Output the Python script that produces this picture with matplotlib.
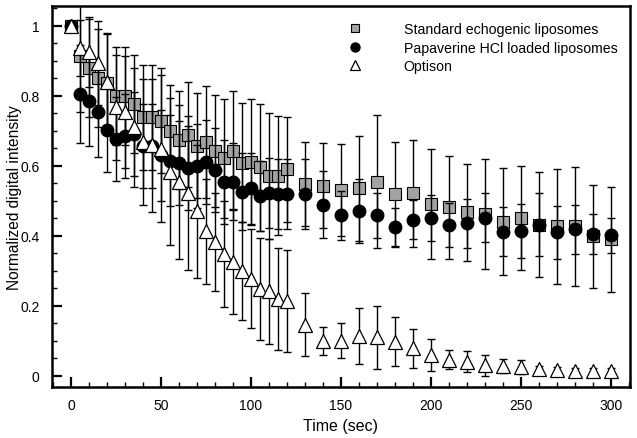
import numpy as np
import matplotlib
matplotlib.use("Agg")
import matplotlib.pyplot as plt
from matplotlib.ticker import MultipleLocator, FuncFormatter

plt.rcParams['font.family'] = ['Liberation Sans', 'DejaVu Sans']

# time points (sec)
t = [0, 5, 10, 15, 20, 25, 30, 35, 40, 45, 50, 55, 60, 65, 70, 75, 80, 85, 90, 95, 100, 105, 110, 115, 120,
     130, 140, 150, 160, 170, 180, 190, 200, 210, 220, 230, 240, 250, 260, 270, 280, 290, 300]

std = [1.0, 0.913, 0.879, 0.85, 0.835, 0.80, 0.80, 0.776, 0.738, 0.738, 0.729, 0.700, 0.673, 0.688, 0.657, 0.667,
       0.643, 0.621, 0.643, 0.608, 0.61, 0.595, 0.571, 0.571, 0.59,
       0.548, 0.543, 0.531, 0.536, 0.554, 0.518, 0.521, 0.491, 0.481, 0.467, 0.462, 0.44, 0.45, 0.431, 0.427,
       0.427, 0.398, 0.39]
std_err = [0, 0.16, 0.14, 0.14, 0.14, 0.14, 0.14, 0.14, 0.15, 0.15, 0.15, 0.13, 0.14, 0.15, 0.15, 0.16, 0.16,
           0.17, 0.17, 0.17, 0.18, 0.18, 0.18, 0.17, 0.15,
           0.12, 0.122, 0.131, 0.15, 0.19, 0.149, 0.152, 0.157, 0.148, 0.138, 0.157, 0.153, 0.148, 0.15, 0.164,
           0.17, 0.147, 0.15]

pap = [1.0, 0.805, 0.786, 0.754, 0.702, 0.676, 0.686, 0.69, 0.657, 0.657, 0.63, 0.614, 0.607, 0.593, 0.60, 0.611,
       0.588, 0.554, 0.554, 0.526, 0.535, 0.514, 0.521, 0.519, 0.519,
       0.519, 0.489, 0.459, 0.471, 0.459, 0.424, 0.446, 0.451, 0.431, 0.436, 0.451, 0.411, 0.414, 0.431, 0.41,
       0.419, 0.405, 0.402]
pap_err = [0, 0.14, 0.13, 0.13, 0.12, 0.12, 0.12, 0.12, 0.12, 0.12, 0.13, 0.13, 0.12, 0.12, 0.12, 0.12, 0.12,
           0.12, 0.11, 0.11, 0.10, 0.10, 0.10, 0.10, 0.10,
           0.10, 0.095, 0.07, 0.092, 0.064, 0.054, 0.055, 0.065, 0.062, 0.07, 0.07, 0.07, 0.077, 0.09, 0.075,
           0.07, 0.056, 0.05]

opt = [1.0, 0.935, 0.924, 0.893, 0.84, 0.767, 0.753, 0.71, 0.667, 0.659, 0.648, 0.583, 0.553, 0.522, 0.47, 0.413,
       0.381, 0.348, 0.326, 0.30, 0.278, 0.248, 0.241, 0.219, 0.214,
       0.146, 0.10, 0.10, 0.114, 0.11, 0.097, 0.079, 0.059, 0.046, 0.04, 0.031, 0.027, 0.024, 0.019, 0.018,
       0.014, 0.014, 0.014]
opt_err = [0, 0.08, 0.10, 0.12, 0.14, 0.15, 0.16, 0.17, 0.18, 0.19, 0.21, 0.21, 0.22, 0.22, 0.19, 0.15, 0.14,
           0.15, 0.15, 0.14, 0.14, 0.145, 0.15, 0.145, 0.145,
           0.09, 0.04, 0.05, 0.08, 0.09, 0.07, 0.056, 0.045, 0.027, 0.03, 0.03, 0.02, 0.02, 0.01, 0.008,
           0.008, 0.008, 0.008]

labels = ["Standard echogenic liposomes", "Papaverine HCl loaded liposomes", "Optison"]

fig = plt.figure(figsize=(6.37, 4.39), dpi=100)
ax = fig.add_axes([0.0816, 0.116, 0.907, 0.868])

ebk = dict(fmt='none', ecolor='black', elinewidth=1.0, capsize=3.2, capthick=1.0)
ax.errorbar(t, std, yerr=std_err, zorder=2, **ebk)
h1, = ax.plot(t, std, 's', ms=8, mfc='#a3a3a3', mec='black', mew=0.8, zorder=3, label=labels[0])
ax.errorbar(t, pap, yerr=pap_err, zorder=4, **ebk)
h2, = ax.plot(t, pap, 'o', ms=9, mfc='black', mec='black', zorder=5, label=labels[1])
ax.errorbar(t, opt, yerr=opt_err, zorder=6, **ebk)
h3, = ax.plot(t, opt, '^', ms=9.5, mfc='white', mec='black', mew=0.9, zorder=7, label=labels[2])

ax.set_xlim(-10.5, 310.5)
ax.set_ylim(-0.032, 1.056)

ax.xaxis.set_major_locator(MultipleLocator(50))
ax.xaxis.set_minor_locator(MultipleLocator(10))
ax.yaxis.set_major_locator(MultipleLocator(0.2))
ax.yaxis.set_minor_locator(MultipleLocator(0.05))
ax.yaxis.set_major_formatter(FuncFormatter(lambda v, p: ('%g' % round(v, 2))))

ax.tick_params(which='major', direction='in', length=7, width=1.6, labelsize=10)
ax.tick_params(axis='x', which='major', pad=8)
ax.tick_params(axis='y', which='major', pad=9)
ax.tick_params(which='minor', direction='in', length=3.5, width=1.0)
for s in ax.spines.values():
    s.set_linewidth(1.8)

ax.set_xlabel("Time (sec)", fontsize=11.5, labelpad=4)
ax.set_ylabel("Normalized digital intensity", fontsize=11.2, labelpad=3)
ax.yaxis.set_label_coords(-0.052, 0.5)

ax.legend(handles=[h1, h2, h3], loc='upper left', bbox_to_anchor=(0.491, 0.972), frameon=False,
          numpoints=1, markerscale=0.72, fontsize=10.2, handletextpad=2.4, labelspacing=0.3,
          borderaxespad=0)

fig.savefig("out.png", dpi=100)
